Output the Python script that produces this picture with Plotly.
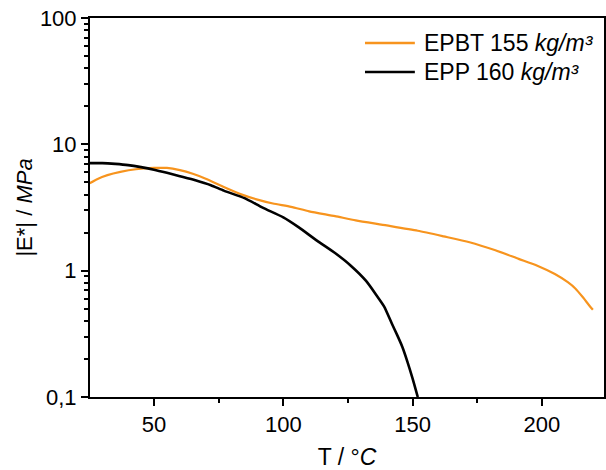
import plotly.graph_objects as go

# EPBT 155 kg/m3
epbt_T = [25, 28, 32, 37, 43, 50, 55, 60, 65, 70, 77, 84, 90, 96, 103, 110, 120, 128,
          140, 152, 162, 172, 182, 191, 198, 205, 210, 213, 216, 218, 219.7]
epbt_E = [4.9, 5.3, 5.7, 6.05, 6.35, 6.5, 6.5, 6.25, 5.85, 5.35, 4.6, 4.0, 3.65, 3.4,
          3.2, 2.95, 2.7, 2.5, 2.28, 2.07, 1.87, 1.68, 1.45, 1.24, 1.1, 0.94, 0.81,
          0.72, 0.61, 0.54, 0.49]

# EPP 160 kg/m3
epp_T = [25, 30, 35, 40, 45, 50, 55, 60, 66, 72, 77, 85, 92, 100, 106, 113, 120, 126,
         132, 136, 139, 142, 144, 146, 148, 150, 152]
epp_E = [7.1, 7.1, 7.0, 6.85, 6.6, 6.3, 5.95, 5.6, 5.2, 4.75, 4.3, 3.75, 3.15, 2.64,
         2.2, 1.73, 1.38, 1.1, 0.83, 0.64, 0.52, 0.38, 0.31, 0.25, 0.19, 0.14, 0.1]

series_names = ["EPBT 155 <i>kg/m³</i>", "EPP 160 <i>kg/m³</i>"]
series_colors = ["#F7941E", "#000000"]

y_tickvals = [0.1, 1, 10, 100]
y_ticktext = ["0,1", "1", "10", "100"]
y_minor = [m * d for d in (0.1, 1, 10) for m in range(2, 10)]
x_tickvals = [50, 100, 150, 200]
x_minor = [75, 125, 175]

FONT = "Liberation Sans, Arial, sans-serif"

fig = go.Figure()
fig.add_trace(go.Scatter(x=epbt_T, y=epbt_E, mode="lines", name=series_names[0],
                         line=dict(color=series_colors[0], width=2.2, shape="spline", smoothing=0.6)))
fig.add_trace(go.Scatter(x=epp_T, y=epp_E, mode="lines", name=series_names[1],
                         line=dict(color=series_colors[1], width=2.6, shape="spline", smoothing=0.6)))

axis_common = dict(showline=True, linecolor="black", linewidth=2, mirror=True,
                   ticks="outside", ticklen=7, tickwidth=1.5, tickcolor="black",
                   showgrid=False, zeroline=False, automargin=False,
                   tickfont=dict(family=FONT, size=22, color="black"))

fig.update_xaxes(range=[25.26, 224], tickvals=x_tickvals,
                 minor=dict(tickvals=x_minor, ticks="outside", ticklen=4, tickwidth=1.5,
                            tickcolor="black", showgrid=False),
                 title=dict(text="T / °<i>C</i>", font=dict(family=FONT, size=23, color="black"),
                            standoff=14),
                 **axis_common)
fig.update_yaxes(type="log", range=[-1, 2], tickvals=y_tickvals, ticktext=y_ticktext,
                 minor=dict(tickvals=y_minor, ticks="outside", ticklen=4, tickwidth=1.5,
                            tickcolor="black", showgrid=False),
                 title=dict(text="|E*| / <i>MPa</i>", font=dict(family=FONT, size=22, color="black"),
                            standoff=1),
                 **axis_common)

# legend drawn in paper coordinates
legend_rows_y = [0.934, 0.8575]
for name, color, ly in zip(series_names, series_colors, legend_rows_y):
    fig.add_shape(type="line", xref="paper", yref="paper", x0=0.535, x1=0.632, y0=ly, y1=ly,
                  line=dict(color=color, width=2.5))
    fig.add_annotation(xref="paper", yref="paper", x=0.646, y=ly, text=name, showarrow=False,
                       xanchor="left", yanchor="middle",
                       font=dict(family=FONT, size=23, color="black"))

fig.update_layout(
    width=606, height=470,
    margin=dict(l=90, r=2, t=18, b=73),
    plot_bgcolor="white", paper_bgcolor="white",
    font=dict(family=FONT, color="black"),
    showlegend=False,
)

fig.write_html("out.html", config={"displayModeBar": False},
               post_script="document.body.style.margin='0';document.body.style.overflow='hidden';")
